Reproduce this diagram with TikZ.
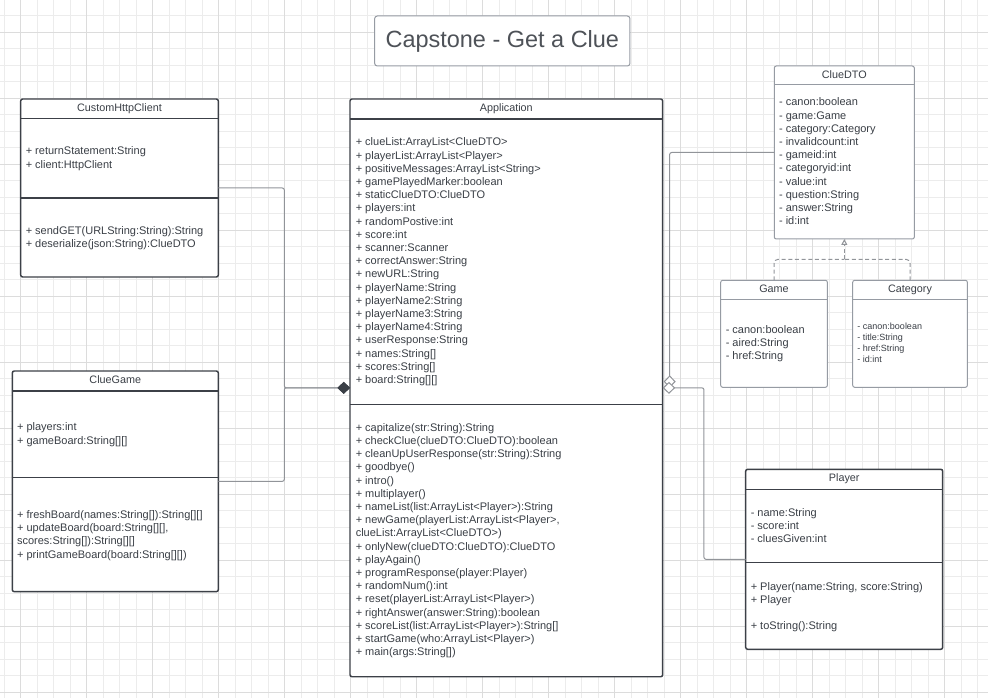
\documentclass[tikz,border=0pt]{standalone}
\usepackage{fontspec}
\setmainfont{Liberation Sans}
\usetikzlibrary{arrows.meta,calc}

\definecolor{ink}{RGB}{58,63,70}
\definecolor{boxline}{RGB}{60,64,71}
\definecolor{lightline}{RGB}{150,155,163}
\definecolor{wire}{RGB}{145,148,153}
\definecolor{gridminor}{RGB}{236,236,236}
\definecolor{gridmajor}{RGB}{220,220,220}

\begin{document}
\begin{tikzpicture}[x=0.75pt,y=0.75pt,yscale=-1,xscale=1,
  classbox/.style={draw=boxline,line width=1.1pt,fill=white,rounded corners=1.5pt,inner sep=0pt,outer sep=0pt,anchor=north west},
  lightbox/.style={classbox,draw=lightline,line width=0.75pt},
  classline/.style={draw=boxline,line width=1.1pt},
  lightclassline/.style={draw=lightline,line width=0.75pt},
  classname/.style={anchor=base,inner sep=0pt,text=ink,font=\fontsize{8.1}{9.9}\selectfont},
  members/.style={anchor=north west,inner sep=0pt,align=left,text=ink,font=\fontsize{8.25}{9.9}\selectfont},
  smallmembers/.style={members,font=\fontsize{6.75}{8.2}\selectfont},
  assoc/.style={draw=wire,line width=0.75pt,rounded corners=1.5pt},
  realize/.style={draw=wire,line width=0.75pt,dash pattern={on 3pt off 2pt},rounded corners=3pt}]
\useasboundingbox (0,0) rectangle (988,698);

%Grid
\foreach \i in {0,...,59} \draw[gridminor,line width=0.75pt] ({4.2+16.5*\i},0) -- ({4.2+16.5*\i},698);
\foreach \j in {1,...,42} \draw[gridminor,line width=0.75pt] (0,{-0.7+16.5*\j}) -- (988,{-0.7+16.5*\j});
\foreach \i in {0,...,14} \draw[gridmajor,line width=0.75pt] ({20.7+66*\i},0) -- ({20.7+66*\i},698);
\foreach \j in {0,...,10} \draw[gridmajor,line width=0.75pt] (0,{32.3+66*\j}) -- (988,{32.3+66*\j});

%Shape: Title box
\node[draw=lightline,line width=0.75pt,fill=white,rounded corners=2pt,minimum width=191.5pt,minimum height=37.5pt,inner sep=0pt,text=ink!90,font=\fontsize{17.6}{20}\selectfont] (title) at (502.3,41) {Capstone - Get a Clue};

%Shape: Class CustomHttpClient
\node[classbox,minimum width=148.2pt,minimum height=133.5pt] (chc) at (20.7,99) {};
\draw[classline] ($(chc.north west)+(0,19.3)$) -- ($(chc.north east)+(0,19.3)$);
\draw[classline] ($(chc.north west)+(0,99)$) -- ($(chc.north east)+(0,99)$);
% Text Node
\node[classname] (chc-name) at ($(chc.north)+(0,12.4)$) {CustomHttpClient};
\node[members] (chc-attr) at (25.5,145.4) {\strut+ returnStatement:String\\+ client:HttpClient};
\node[members] (chc-ops) at (25.5,224.7) {\strut+ sendGET(URLString:String):String\\+ deserialize(json:String):ClueDTO};

%Shape: Class ClueGame
\node[classbox,minimum width=154.5pt,minimum height=165.5pt] (cg) at (12.3,371) {};
\draw[classline] ($(cg.north west)+(0,20)$) -- ($(cg.north east)+(0,20)$);
\draw[classline] ($(cg.north west)+(0,106.7)$) -- ($(cg.north east)+(0,106.7)$);
% Text Node
\node[classname] (cg-name) at ($(cg.north)+(0,12.4)$) {ClueGame};
\node[members] (cg-attr) at (16.8,421.4) {\strut+ players:int\\+ gameBoard:String[][]};
\node[members] (cg-ops) at (16.8,509) {\strut+ freshBoard(names:String[]):String[][]\\+ updateBoard(board:String[][],\\scores:String[]):String[][]\\+ printGameBoard(board:String[][])};

%Shape: Class Application
\node[classbox,minimum width=234.5pt,minimum height=433.3pt] (app) at (350,99) {};
\draw[classline] ($(app.north west)+(0,20)$) -- ($(app.north east)+(0,20)$);
\draw[classline] ($(app.north west)+(0,305.3)$) -- ($(app.north east)+(0,305.3)$);
% Text Node
\node[classname] (app-name) at ($(app.north)+(0,12.4)$) {Application};
\node[members] (app-attr) at (355.5,136.4) {\strut+ clueList:ArrayList<ClueDTO>\\+ playerList:ArrayList<Player>\\+ positiveMessages:ArrayList<String>\\+ gamePlayedMarker:boolean\\+ staticClueDTO:ClueDTO\\+ players:int\\+ randomPostive:int\\+ score:int\\+ scanner:Scanner\\+ correctAnswer:String\\+ newURL:String\\+ playerName:String\\+ playerName2:String\\+ playerName3:String\\+ playerName4:String\\+ userResponse:String\\+ names:String[]\\+ scores:String[]\\+ board:String[][]};
\node[members] (app-ops) at (355.5,421.7) {\strut+ capitalize(str:String):String\\+ checkClue(clueDTO:ClueDTO):boolean\\+ cleanUpUserResponse(str:String):String\\+ goodbye()\\+ intro()\\+ multiplayer()\\+ nameList(list:ArrayList<Player>):String\\+ newGame(playerList:ArrayList<Player>,\\clueList:ArrayList<ClueDTO>)\\+ onlyNew(clueDTO:ClueDTO):ClueDTO\\+ playAgain()\\+ programResponse(player:Player)\\+ randomNum():int\\+ reset(playerList:ArrayList<Player>)\\+ rightAnswer(answer:String):boolean\\+ scoreList(list:ArrayList<Player>):String[]\\+ startGame(who:ArrayList<Player>)\\+ main(args:String[])};

%Shape: Class ClueDTO
\node[lightbox,minimum width=105pt,minimum height=129.75pt] (dto) at (774.3,66) {};
\draw[lightclassline] ($(dto.north west)+(0,19)$) -- ($(dto.north east)+(0,19)$);
% Text Node
\node[classname] (dto-name) at ($(dto.north)+(0,12.4)$) {ClueDTO};
\node[members] (dto-attr) at (778.8,96.4) {\strut- canon:boolean\\- game:Game\\- category:Category\\- invalidcount:int\\- gameid:int\\- categoryid:int\\- value:int\\- question:String\\- answer:String\\- id:int};

%Shape: Class Game
\node[lightbox,minimum width=80pt,minimum height=80.25pt] (game) at (720.7,280.3) {};
\draw[lightclassline] ($(game.north west)+(0,19)$) -- ($(game.north east)+(0,19)$);
% Text Node
\node[classname] (game-name) at ($(game.north)+(0,12.4)$) {Game};
\node[members] (game-attr) at (725.5,324) {\strut- canon:boolean\\- aired:String\\- href:String};

%Shape: Class Category
\node[lightbox,minimum width=86pt,minimum height=80.25pt] (cat) at (852.7,280.3) {};
\draw[lightclassline] ($(cat.north west)+(0,19)$) -- ($(cat.north east)+(0,19)$);
% Text Node
\node[classname] (cat-name) at ($(cat.north)+(0,12.4)$) {Category};
\node[smallmembers] (cat-attr) at (857.2,321.6) {\strut- canon:boolean\\- title:String\\- href:String\\- id:int};

%Shape: Class Player
\node[classbox,minimum width=147.75pt,minimum height=135pt] (pl) at (745.7,469.3) {};
\draw[classline] ($(pl.north west)+(0,20)$) -- ($(pl.north east)+(0,20)$);
\draw[classline] ($(pl.north west)+(0,93.4)$) -- ($(pl.north east)+(0,93.4)$);
% Text Node
\node[classname] (pl-name) at ($(pl.north)+(0,12.4)$) {Player};
\node[members] (pl-attr) at (750.5,507) {\strut- name:String\\- score:int\\- cluesGiven:int};
\node[members] (pl-ops) at (750.5,580.7) {\strut+ Player(name:String, score:String)\\+ Player\\[9.9pt]+ toString():String};

%Straight Lines: composition into Application
\draw[assoc,-{Diamond[color=ink,fill=ink,length=9.4pt,width=9pt]}] (chc.east) -- ++(66,0) |- (app.west);
\draw[assoc,-{Diamond[color=ink,fill=ink,length=9.4pt,width=9pt]}] (cg.east) -- ++(66,0) |- (app.west);
%Straight Lines: aggregation into Application
\draw[assoc,-{Diamond[fill=white,length=9.4pt,width=9pt]}] (dto.west) -| ($(app.east)+(7,0)$);
\draw[assoc,-{Diamond[fill=white,length=9.4pt,width=9pt]}] (pl.west) -| ($(app.east)+(41.3,0)$) -- (app.east);
%Dashed Lines: realization of ClueDTO
\coordinate (junc) at ($(dto.south)+(0,20.3)$);
\draw[realize] (game.north) |- (junc);
\draw[realize] (cat.north) |- (junc);
\draw[realize,-{Triangle[fill=white,length=4.5pt,width=4.5pt]}] (junc) -- (dto.south);

\end{tikzpicture}
\end{document}
